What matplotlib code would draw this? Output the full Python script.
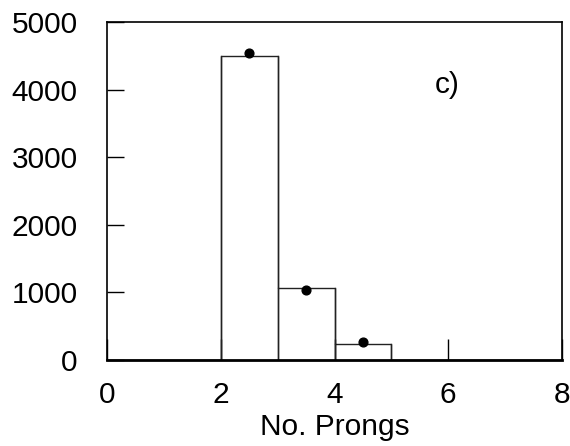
import matplotlib
matplotlib.use("Agg")
import matplotlib.pyplot as plt
import numpy as np

plt.rcParams['font.family'] = ['Liberation Sans', 'DejaVu Sans']

# Histogram of prong multiplicity (bin edges and counts)
bin_edges = [0, 1, 2, 3, 4, 5, 6, 7, 8]
hist_counts = [0, 0, 4490, 1070, 232, 0, 0, 0]

# Data points at bin centres
point_x = [2.5, 3.5, 4.5]
point_y = [4545, 1030, 262]

x_ticks = [0, 2, 4, 6, 8]
y_ticks = [0, 1000, 2000, 3000, 4000, 5000]

fig = plt.figure(figsize=(5.70, 4.46), dpi=100)
ax = fig.add_axes([107 / 570, 1 - 360 / 446, 455 / 570, 338 / 446])

ax.stairs(hist_counts, bin_edges, color='#222222', linewidth=1.0)
# vertical bin walls down to zero
for i in range(len(hist_counts)):
    h = hist_counts[i]
    if h > 0:
        ax.plot([bin_edges[i], bin_edges[i]], [0, h], color='#222222', linewidth=1.0)
        ax.plot([bin_edges[i + 1], bin_edges[i + 1]], [0, h], color='#222222', linewidth=1.0)

ax.plot(point_x, point_y, 'o', color='black', markersize=6.3)

ax.text(5.77, 3950, 'c)', fontsize=21.5, ha='left', va='baseline')

ax.set_xlim(0, 8)
ax.set_ylim(0, 5000)
ax.set_xticks(x_ticks)
ax.set_yticks(y_ticks)
ax.tick_params(axis='x', direction='in', length=15, width=1.0, pad=15,
               labelsize=21.5, top=False)
ax.tick_params(axis='y', direction='in', length=12.5, width=1.0, pad=21,
               labelsize=21.5, right=False)
for s in ax.spines.values():
    s.set_linewidth(1.2)
ax.spines['bottom'].set_linewidth(2.0)

ax.set_xlabel('No. Prongs', fontsize=21.5, labelpad=3)

fig.savefig('out.png', dpi=100)
